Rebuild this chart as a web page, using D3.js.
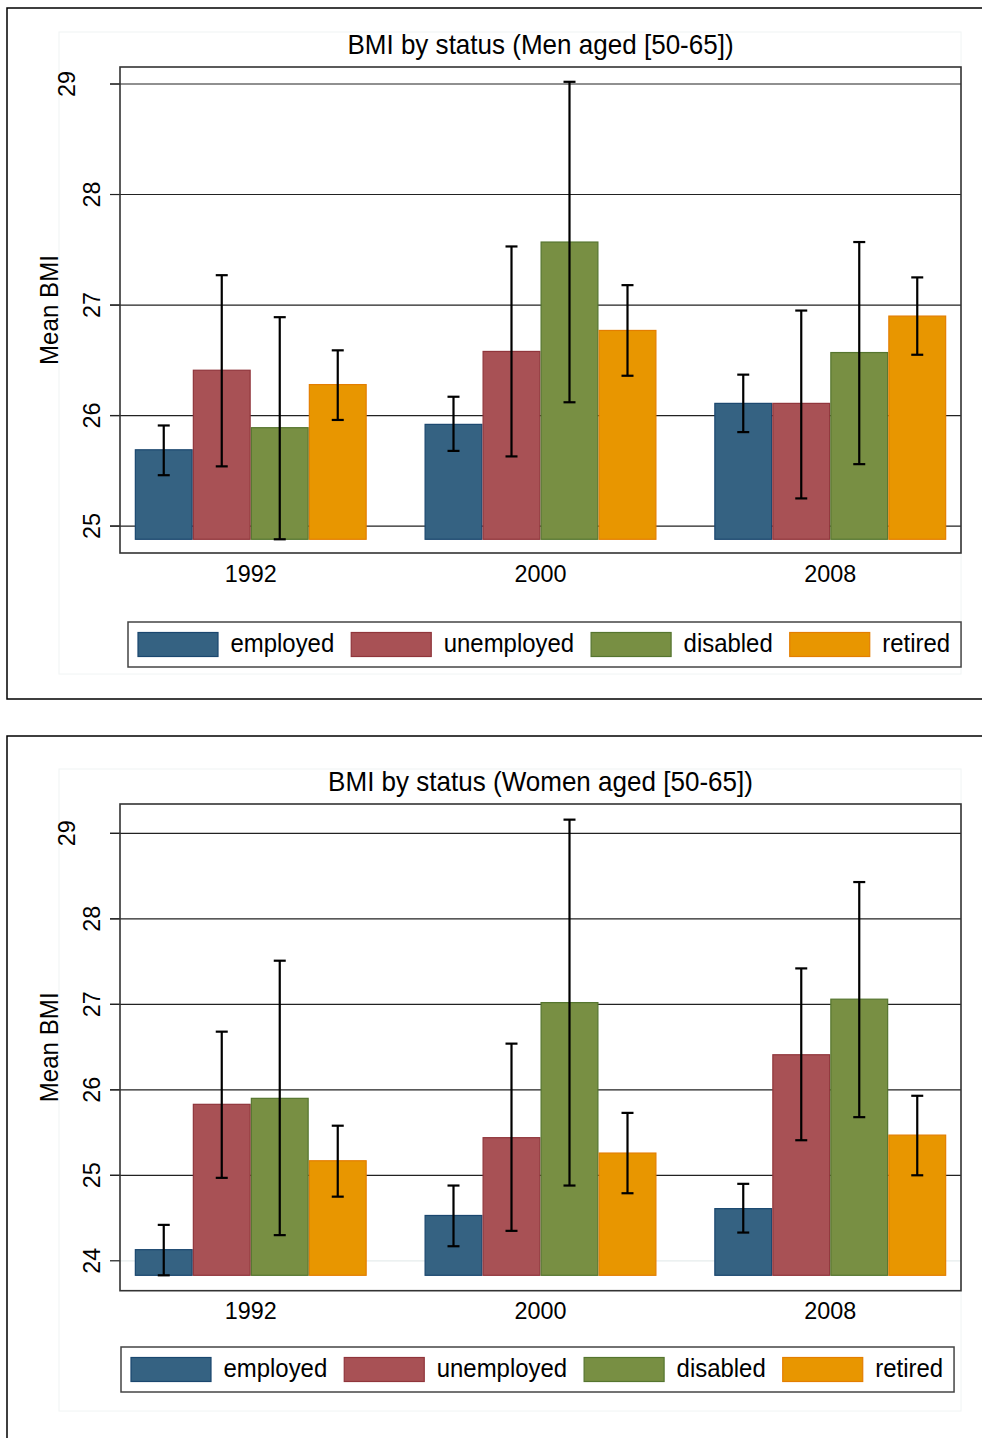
<!DOCTYPE html>
<html>
<head>
<meta charset="utf-8">
<script src="https://cdn.jsdelivr.net/npm/d3@7"></script>
<style>
  body { margin: 0; background: #fff; }
  text { font-family: "Liberation Sans", Arial, sans-serif; fill: #000; }
</style>
</head>
<body>
<div id="chart"></div>
<script>
const years = ["1992", "2000", "2008"];
const statuses = ["employed", "unemployed", "disabled", "retired"];

// rows = years, columns = statuses
const menMean  = [[25.69, 26.41, 25.89, 26.28], [25.92, 26.58, 27.57, 26.77], [26.11, 26.11, 26.57, 26.90]];
const menLower = [[25.46, 25.54, 24.88, 25.96], [25.68, 25.63, 26.12, 26.36], [25.85, 25.25, 25.56, 26.55]];
const menUpper = [[25.91, 27.27, 26.89, 26.59], [26.17, 27.53, 29.02, 27.18], [26.37, 26.95, 27.57, 27.25]];

const womenMean  = [[24.13, 25.83, 25.90, 25.17], [24.53, 25.44, 27.02, 25.26], [24.61, 26.41, 27.06, 25.47]];
const womenLower = [[23.83, 24.97, 24.30, 24.75], [24.17, 24.35, 24.88, 24.79], [24.33, 25.41, 25.68, 25.00]];
const womenUpper = [[24.42, 26.68, 27.51, 25.58], [24.88, 26.54, 29.16, 25.73], [24.90, 27.42, 28.43, 25.93]];

const menTicks = [25, 26, 27, 28, 29];
const womenTicks = [24, 25, 26, 27, 28, 29];

const fills   = ["#356282", "#a85155", "#788f43", "#e89600"];
const strokes = ["#1a476f", "#90353b", "#55752f", "#e37e00"];

const W = 982, H = 1438;
const SX = 0.95; // the original font runs a touch narrower than Arial
const svg = d3.select("#chart").append("svg")
  .attr("width", W).attr("height", H);

function label(sel, x, y, size, rot) {
  return sel.append("text")
    .attr("transform", `translate(${x},${y})` + (rot ? " rotate(-90)" : "") + ` scale(${SX},1)`)
    .style("font-size", size + "px");
}

function drawPanel(p) {
  const g = svg.append("g");

  // outer frame (open to the right / bottom)
  g.append("path")
    .attr("d", `M${W + 2},${p.frameTop} H7 V${p.frameBottom} H${W + 2}`)
    .attr("fill", "none").attr("stroke", "#000").attr("stroke-width", 1.5);

  g.append("rect")
    .attr("x", 59).attr("y", p.top - 35).attr("width", 902).attr("height", 642)
    .attr("fill", "none").attr("stroke", "#f0f4f4").attr("stroke-width", 1);

  const x0 = d3.scaleBand().domain(years).range([120, 961])
    .paddingInner(0.1993).paddingOuter(0.0509);
  const x1 = d3.scaleBand().domain(statuses).range([0, x0.bandwidth()]);
  const y = d3.scaleLinear().domain(p.domain).range([p.bottom, p.top]);

  const base = d3.min(p.lower.flat());

  // grid + ticks
  g.selectAll(".grid").data(p.ticks).enter().append("line")
    .attr("x1", 110).attr("x2", 961)
    .attr("y1", d => y(d)).attr("y2", d => y(d))
    .attr("stroke", d => d === p.faintTick ? "#e6ecec" : "#222")
    .attr("stroke-width", 1.2);
  g.selectAll(".tickmark").data(p.ticks).enter().append("line")
    .attr("x1", 110).attr("x2", 120)
    .attr("y1", d => y(d)).attr("y2", d => y(d))
    .attr("stroke", "#222").attr("stroke-width", 1.2);

  p.ticks.forEach((d, i) => {
    label(g, i === p.ticks.length - 1 ? 75 : 100, y(d), 24.6, true)
      .attr("text-anchor", "middle").text(d);
  });

  label(g, 58, (p.top + p.bottom) / 2, 25.4, true)
    .attr("text-anchor", "middle").text("Mean BMI");

  label(g, 540.5, p.top - 13, 27.4, false)
    .attr("text-anchor", "middle").text(p.title);

  // bars
  const groups = g.selectAll(".yr").data(years).enter().append("g")
    .attr("transform", d => `translate(${x0(d)},0)`);

  groups.selectAll("rect").data((d, i) => statuses.map((s, j) => ({ s, j, v: p.mean[i][j] })))
    .enter().append("rect")
    .attr("x", d => x1(d.s) + 0.6)
    .attr("width", x1.bandwidth() - 1.2)
    .attr("y", d => y(d.v))
    .attr("height", d => y(base) - y(d.v))
    .attr("fill", d => fills[d.j])
    .attr("stroke", d => strokes[d.j])
    .attr("stroke-width", 1.2);

  // error bars
  const eb = groups.selectAll(".err").data((d, i) => statuses.map((s, j) => ({ s, lo: p.lower[i][j], hi: p.upper[i][j] })))
    .enter().append("g")
    .attr("transform", d => `translate(${x1(d.s) + x1.bandwidth() / 2},0)`)
    .attr("stroke", "#000").attr("stroke-width", 2.2);
  eb.append("line").attr("y1", d => y(d.lo)).attr("y2", d => y(d.hi));
  eb.append("line").attr("x1", -6).attr("x2", 6).attr("y1", d => y(d.hi)).attr("y2", d => y(d.hi));
  eb.append("line").attr("x1", -6).attr("x2", 6).attr("y1", d => y(d.lo)).attr("y2", d => y(d.lo));

  // plot border
  g.append("rect")
    .attr("x", 120).attr("y", p.top).attr("width", 841).attr("height", p.bottom - p.top)
    .attr("fill", "none").attr("stroke", "#333").attr("stroke-width", 1.6);

  // x labels
  years.forEach(d => {
    label(g, x0(d) + x0.bandwidth() / 2, p.bottom + 28.7, 24.6, false)
      .attr("text-anchor", "middle").text(d);
  });

  // legend
  const lg = g.append("g");
  const box = lg.append("rect")
    .attr("x", p.legendX).attr("y", p.legendY).attr("height", 45)
    .attr("fill", "#fff").attr("stroke", "#444").attr("stroke-width", 1.5);
  let lx = p.legendX + 10;
  statuses.forEach((s, j) => {
    lg.append("rect")
      .attr("x", lx).attr("y", p.legendY + 10.5).attr("width", 80).attr("height", 24)
      .attr("fill", fills[j]).attr("stroke", strokes[j]).attr("stroke-width", 1.2);
    const t = label(lg, lx + 92.5, p.legendY + 30, 25.2, false).text(s);
    lx += 92.5 + t.node().getComputedTextLength() * SX + 17;
  });
  box.attr("width", lx - 17 + 11 - p.legendX);
}

drawPanel({
  title: "BMI by status (Men aged [50-65])",
  frameTop: 8, frameBottom: 699,
  top: 67, bottom: 553, domain: [24.756, 29.154],
  ticks: menTicks, faintTick: null,
  mean: menMean, lower: menLower, upper: menUpper,
  legendX: 128, legendY: 622
});

drawPanel({
  title: "BMI by status (Women aged [50-65])",
  frameTop: 736, frameBottom: H + 2,
  top: 804, bottom: 1290.7, domain: [23.650, 29.343],
  ticks: womenTicks, faintTick: 24,
  mean: womenMean, lower: womenLower, upper: womenUpper,
  legendX: 121, legendY: 1347
});
</script>
</body>
</html>
